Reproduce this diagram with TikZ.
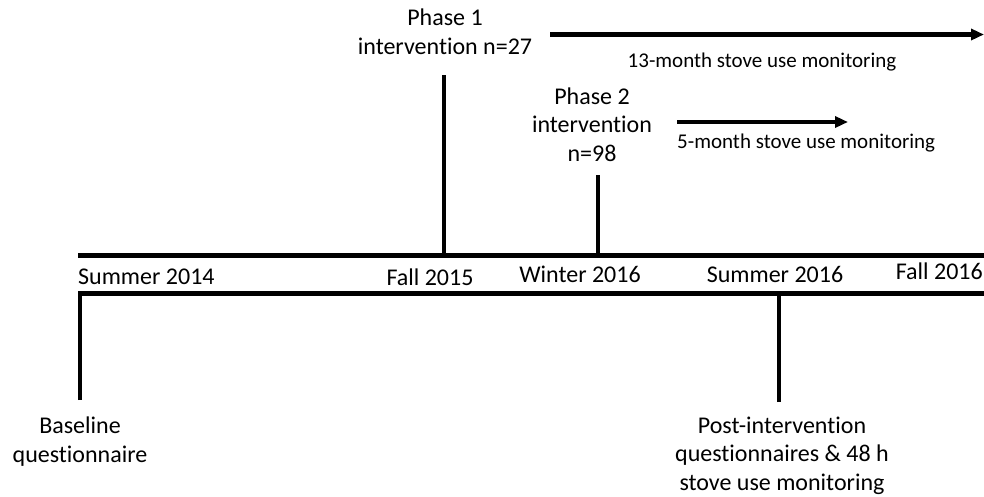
\documentclass[tikz,border=0pt]{standalone}
\usepackage{fontspec}
\setmainfont{Carlito}[Ligatures=NoCommon]
\usetikzlibrary{positioning,arrows.meta}

\begin{document}
\begin{tikzpicture}
    [x=1pt,y=-1pt,line join=miter,
    every node/.style={inner sep=0pt,align=center,font=\fontsize{24}{28.5}\selectfont},
    small/.style={font=\fontsize{21}{25}\selectfont},
    timeline/.style={line width=4.5pt},
    tick/.style={line width=4pt},
    span/.style={line width=4.5pt,-{Triangle[length=13pt,width=11pt]}}]
    \useasboundingbox (0,0) rectangle (984,496);
    % time axis
    \coordinate (tl) at (78,255.5); \coordinate (tr) at (984,255.5);
    \coordinate (bl) at (78,293.5); \coordinate (br) at (984,293.5);
    \draw[timeline] (tl) -- (tr);
    \node (s14) [anchor=base west] at (78,284) {Summer 2014};
    \node (f15) [anchor=base] at (430,285) {Fall 2015};
    \node (w16) [anchor=base] at (580,282) {Winter 2016};
    \node (s16) [anchor=base] at (775,282) {Summer 2016};
    \node (f16) [anchor=base east] at (983,279) {Fall 2016};
    % upper branch
    \node (p1) [anchor=base] at (445,54) {Phase 1\\intervention n=27};
    \coordinate (p1t) at (444,75);
    \draw[tick] (p1t) -- (p1t |- tl);
    \coordinate (a13) at (550,34.5); \coordinate (b13) at (984,34.5);
    \draw[span] (a13) -- (b13);
    \node (m13) [small,anchor=base] at (762,67) {13-month stove use monitoring};
    \node (p2) [anchor=base] at (592,161) {Phase 2\\intervention\\n=98};
    \coordinate (p2t) at (598,175);
    \draw[tick] (p2t) -- (p2t |- tl);
    \coordinate (a5) at (677,122); \coordinate (b5) at (848,122);
    \draw[span] (a5) -- (b5);
    \node (m5) [small,anchor=base west] at (677,148) {5-month stove use monitoring};
    % lower branch
    \coordinate (bqt) at (80,400);
    \draw[timeline] (bqt) -- (bqt |- bl) -- (br);
    \node (bq) [anchor=base] at (80,462) {Baseline\\questionnaire};
    \coordinate (pqt) at (779,402);
    \draw[tick] (pqt) -- (pqt |- bl);
    \node (pq) [anchor=base] at (782,490)
      {Post-intervention\\questionnaires \& 48 h\\stove use monitoring};
  \end{tikzpicture}
\end{document}
